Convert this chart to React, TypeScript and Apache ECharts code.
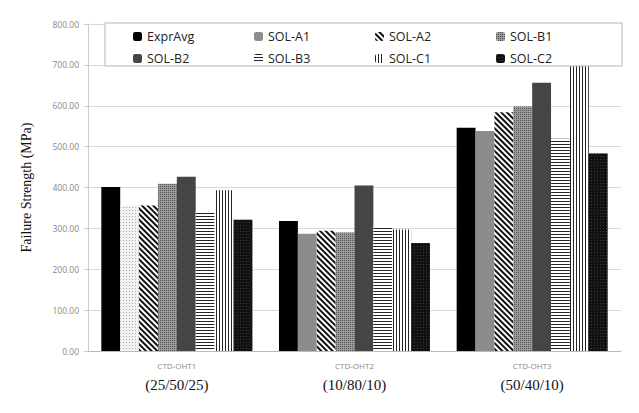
import React, { useEffect, useRef } from "react";
import * as echarts from "echarts";

const categories = ["CTD-OHT1", "CTD-OHT2", "CTD-OHT3"];
const subLabels = ["(25/50/25)", "(10/80/10)", "(50/40/10)"];
const seriesNames = ["ExprAvg", "SOL-A1", "SOL-A2", "SOL-B1", "SOL-B2", "SOL-B3", "SOL-C1", "SOL-C2"];
const exprAvg = [401, 318, 546];
const solA1 = [356, 287, 538];
const solA2 = [356, 294, 584];
const solB1 = [409, 290, 598];
const solB2 = [426, 405, 656];
const solB3 = [342, 305, 519];
const solC1 = [393, 297, 701];
const solC2 = [321, 264, 483];
const yTicks = { min: 0, max: 800, interval: 100 };

const allValues = [exprAvg, solA1, solA2, solB1, solB2, solB3, solC1, solC2];

const styles: any[] = [
  { color: "#000000" },
  { color: "#8c8c8c" },
  {
    color: "#ffffff",
    decal: { symbol: "rect", symbolSize: 1, color: "#111", dashArrayX: [1, 0], dashArrayY: [1.5, 2], rotation: Math.PI / 4 },
  },
  {
    color: "#9a9a9a",
    decal: { symbol: "rect", symbolSize: 1, color: "#555", dashArrayX: [1, 1], dashArrayY: [1, 1] },
  },
  { color: "#454545" },
  {
    color: "#ffffff",
    decal: { symbol: "rect", symbolSize: 1, color: "#222", dashArrayX: [1, 0], dashArrayY: [1, 2] },
  },
  {
    color: "#ffffff",
    decal: { symbol: "rect", symbolSize: 1, color: "#222", dashArrayX: [1, 2], dashArrayY: [1, 0] },
  },
  {
    color: "#111111",
    decal: { symbol: "rect", symbolSize: 1, color: "#3a3a3a", dashArrayX: [1, 2], dashArrayY: [1, 2] },
  },
];

const solA1FirstStyle = {
  color: "#f2f2f2",
  decal: { symbol: "rect", symbolSize: 1, color: "#aaa", dashArrayX: [1, 2], dashArrayY: [1, 2] },
};

export default function App() {
  const ref = useRef<HTMLDivElement>(null);
  useEffect(() => {
    if (!ref.current) return;
    const chart = echarts.init(ref.current, null, { renderer: "svg" });
    const series = seriesNames.map((name, i) => ({
      name,
      type: "bar",
      barGap: "0%",
      barCategoryGap: "15%",
      itemStyle: styles[i],
      data: allValues[i].map((v, j) =>
        i === 1 && j === 0 ? { value: v, itemStyle: solA1FirstStyle } : v
      ),
    }));
    chart.setOption({
      animation: false,
      backgroundColor: "#ffffff",
      grid: { left: 88, right: 18, top: 24, bottom: 62 },
      legend: {
        data: seriesNames,
        left: 105,
        top: 23,
        width: 480,
        orient: "horizontal",
        itemWidth: 9,
        itemHeight: 9,
        itemGap: 9,
        padding: [7, 14, 1, 28],
        backgroundColor: "#ffffff",
        borderColor: "#b5b5b5",
        borderWidth: 1,
        formatter: (n: string) => "{a|" + n + "}",
        textStyle: {
          rich: {
            a: { width: 98, fontSize: 12.5, lineHeight: 12, fontFamily: "Open Sans", color: "#222" },
          },
        },
      },
      xAxis: {
        type: "category",
        data: categories,
        axisLine: { show: true, lineStyle: { color: "#bbbbbb" } },
        axisTick: { show: false },
        axisLabel: {
          margin: 7,
          formatter: (v: string, idx: number) => "{a|" + v + "}\n{b|" + subLabels[idx] + "}",
          rich: {
            a: { fontSize: 8, lineHeight: 14, color: "#888", fontFamily: "Open Sans" },
            b: { fontSize: 15, lineHeight: 26, color: "#111", fontFamily: "Liberation Serif" },
          },
        },
      },
      yAxis: {
        type: "value",
        min: yTicks.min,
        max: yTicks.max,
        interval: yTicks.interval,
        name: "Failure Strength (MPa)",
        nameLocation: "middle",
        nameGap: 55,
        nameTextStyle: { fontSize: 14, fontFamily: "Liberation Serif", color: "#111" },
        axisLine: { show: true, lineStyle: { color: "#cccccc" } },
        axisTick: { show: true, length: 4, lineStyle: { color: "#cccccc" } },
        axisLabel: {
          margin: 9,
          fontSize: 8.5,
          color: "#888",
          fontFamily: "Open Sans",
          formatter: (v: number) => v.toFixed(2),
        },
        splitLine: { show: true, lineStyle: { color: "#d9d9d9" } },
      },
      series,
    });
    return () => chart.dispose();
  }, []);
  return <div ref={ref} style={{ width: 639, height: 413, position: "absolute", left: 0, top: 0 }} />;
}
